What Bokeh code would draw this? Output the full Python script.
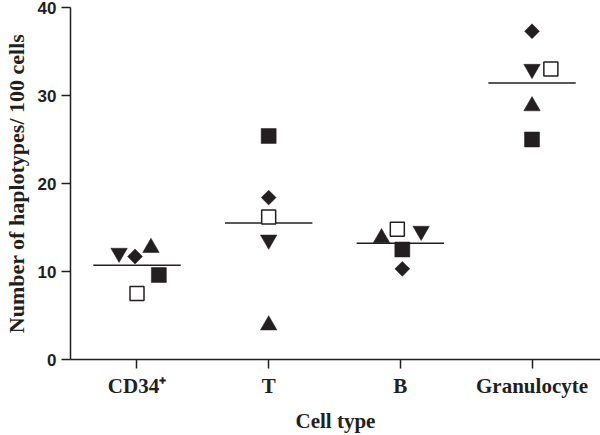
import math
import numpy as np
from bokeh.plotting import figure
from bokeh.models import FixedTicker
from bokeh.embed import file_html
from bokeh.resources import INLINE

# ---- data ----
categories = ["CD34\u207a", "T", "B", "Granulocyte"]
filled_square = [9.6, 25.4, 12.5, 25.0]
diamond = [11.7, 18.4, 10.3, 37.3]
open_square = [7.5, 16.2, 14.8, 33.0]
triangle_down = [12.1, 13.6, 14.6, 33.0]
triangle_up = [12.7, 3.9, 13.8, 28.8]
y_ticks = [0, 10, 20, 30, 40]

# ---- layout: horizontal jitter of each marker within its group (x units) ----
jitter_filled_square = [0.166, 0.0, 0.015, 0.0]
jitter_diamond = [-0.015, 0.0, 0.015, 0.0]
jitter_open_square = [0.0, 0.0, -0.023, 0.143]
jitter_triangle_down = [-0.136, 0.0, 0.158, 0.0]
jitter_triangle_up = [0.106, 0.0, -0.143, 0.0]
mean_half_width = 0.332

INK = "#231f20"
SERIF = "Liberation Serif"
SANS = "Liberation Sans"

centers = np.arange(1, len(categories) + 1, dtype=float)

p = figure(width=600, height=435, output_backend="svg", toolbar_location=None,
           x_range=(0.495, 4.52), y_range=(0, 40),
           min_border_left=66, min_border_right=0, min_border_top=7,
           min_border_bottom=75)
p.outline_line_color = None
p.grid.visible = False
p.background_fill_color = "white"
p.border_fill_color = "white"

# x axis
xa = p.xaxis[0]
xa.ticker = FixedTicker(ticks=list(centers))
overrides = {float(c): lab for c, lab in zip(centers, categories)}
overrides.update({int(c): lab for c, lab in zip(centers, categories)})
xa.major_label_overrides = overrides
xa.minor_tick_line_color = None
xa.major_tick_in = 0
xa.major_tick_out = 9
xa.axis_line_width = 1.5
xa.axis_line_color = INK
xa.major_tick_line_width = 1.5
xa.major_tick_line_color = INK
xa.major_label_text_font = SERIF
xa.major_label_text_font_style = "bold"
xa.major_label_text_font_size = "21px"
xa.major_label_text_color = INK
xa.major_label_standoff = 5
xa.axis_label = "Cell type"
xa.axis_label_text_font = SERIF
xa.axis_label_text_font_style = "bold"
xa.axis_label_text_font_size = "21px"
xa.axis_label_text_color = INK
xa.axis_label_standoff = 8

# y axis
ya = p.yaxis[0]
ya.ticker = FixedTicker(ticks=y_ticks)
ya.minor_tick_line_color = None
ya.major_tick_in = 0
ya.major_tick_out = 9
ya.axis_line_width = 1.5
ya.axis_line_color = INK
ya.major_tick_line_width = 1.5
ya.major_tick_line_color = INK
ya.major_label_text_font = SANS
ya.major_label_text_font_style = "bold"
ya.major_label_text_font_size = "17px"
ya.major_label_text_color = INK
ya.major_label_standoff = 5
ya.axis_label = "Number of haplotypes/ 100 cells"
ya.axis_label_text_font = SERIF
ya.axis_label_text_font_style = "bold"
ya.axis_label_text_font_size = "22px"
ya.axis_label_text_color = INK
ya.axis_label_standoff = 6

# mean lines
series = [filled_square, diamond, open_square, triangle_down, triangle_up]
means = np.mean(np.array(series), axis=0)
p.segment(x0=centers - mean_half_width, x1=centers + mean_half_width,
          y0=means, y1=means, line_color=INK, line_width=1.5)

def xs(j):
    return centers + np.array(j)

p.scatter(xs(jitter_filled_square), filled_square, marker="square", size=15,
          fill_color=INK, line_color=INK, line_width=0.5)
p.scatter(xs(jitter_diamond), diamond, marker="square", size=10.5, angle=math.pi / 4,
          fill_color=INK, line_color=INK, line_width=0.5)
p.scatter(xs(jitter_triangle_down), triangle_down, marker="inverted_triangle", size=16.5,
          fill_color=INK, line_color=INK, line_width=0.5)
p.scatter(xs(jitter_triangle_up), triangle_up, marker="triangle", size=16.5,
          fill_color=INK, line_color=INK, line_width=0.5)
p.scatter(xs(jitter_open_square), open_square, marker="square", size=14,
          fill_color="white", line_color=INK, line_width=1.5)

open("out.html", "w").write(file_html(p, INLINE))
